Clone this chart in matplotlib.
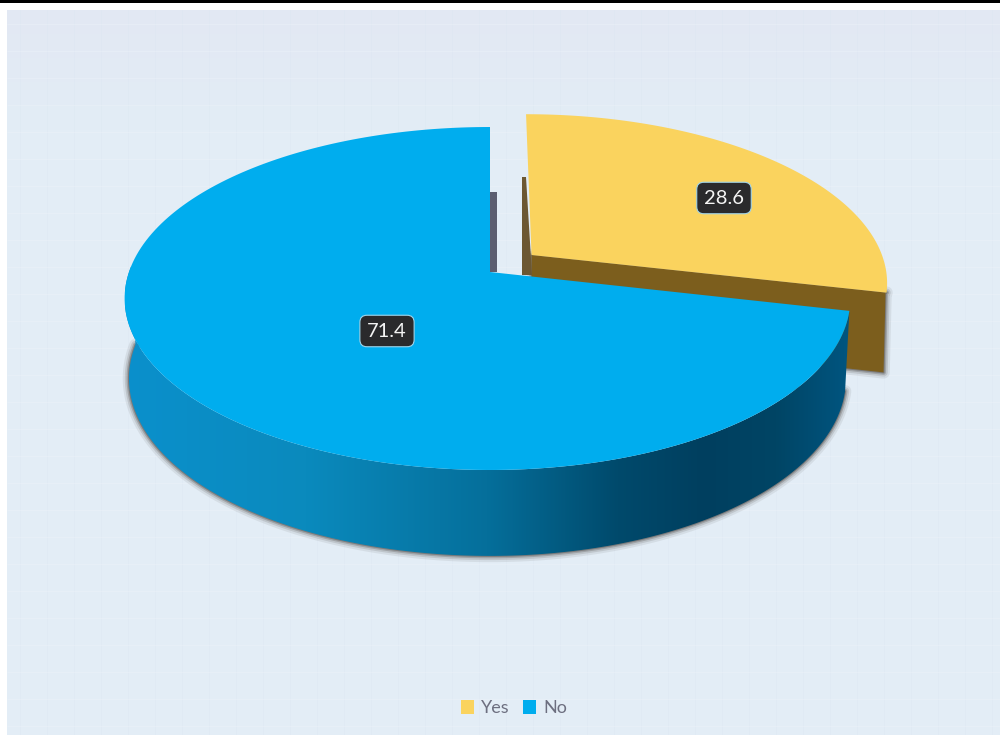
import numpy as np
import matplotlib
matplotlib.use("Agg")
import matplotlib.pyplot as plt
from matplotlib.colors import LinearSegmentedColormap
from matplotlib.patches import Patch, Polygon

# Data
labels = ["Yes", "No"]
values = [28.6, 71.4]
colors = ["#fad35e", "#00adee"]

# Pie geometry, in pixels
cx, cy = 490, 272
rx_left, rx_right = 361, 356
ry = 167.4
persp = 0.1545
depth = 79
explode = (0.1185, 0.1032)

plt.rcParams["font.family"] = ["Lato", "DejaVu Sans"]

fig = plt.figure(figsize=(10, 7.35), dpi=100, facecolor="white")
ax = fig.add_axes([0, 0, 1, 1])
ax.set_xlim(0, 1000)
ax.set_ylim(735, 0)
ax.axis("off")


def project(wx, wy, drop=0.0):
    # perspective from the flat pie plane to the screen
    d = 1 + persp * wy
    sx = cx + np.where(wx < 0, rx_left, rx_right) * wx / d
    sy = cy - ry * wy / d + drop * depth / np.sqrt(d)
    return sx, sy


def rim(a0, a1, off=(0, 0), drop=0.0, n=200):
    t = np.radians(np.linspace(a0, a1, n))
    return project(np.cos(t) + off[0], np.sin(t) + off[1], drop)


def poly(xs, ys, **kw):
    p = Polygon(np.column_stack([xs, ys]), closed=True, **kw)
    ax.add_patch(p)
    return p


def soft_edge(xs, ys, z, color="#45403c"):
    for lw, a in [(9, 0.09), (6, 0.15), (3.5, 0.25), (1.5, 0.4)]:
        poly(xs, ys, fc="none", ec=color, lw=lw, alpha=a, zorder=z, joinstyle="round")


# Background panel with a faint grid
ax.add_patch(plt.Rectangle((7, 10), 993, 725, fc="#e3edf6", ec="none", zorder=0))
ax.imshow(np.linspace(0, 1, 128)[:, None], extent=(7, 1000, 130, 10), aspect="auto", zorder=0.1,
          cmap=LinearSegmentedColormap.from_list("top", ["#e2e8f3", "#e3edf6"]))
ax.set_xlim(0, 1000)
ax.set_ylim(735, 0)
ax.vlines(np.arange(20, 1000, 27), 10, 735, color="#d8e4f0", lw=0.7, alpha=0.25, zorder=0.2)
ax.hlines(np.arange(24, 735, 27), 7, 1000, color="#eff5fa", lw=0.7, alpha=0.35, zorder=0.2)
ax.add_patch(plt.Rectangle((0, 0), 1000, 3, fc="black", ec="none", zorder=0.3))

# Slice angles come from the values, clockwise from twelve o'clock for "Yes"
total = sum(values)
yes_end = 90 - 360 * values[0] / total
no_end = 90 + 360 * values[1] / total

# Exploded "Yes" slice: cut face first, then the top
ax_, ay_ = project(explode[0], explode[1])
bx_, by_ = project(explode[0], explode[1], 1.0)
tipx, tipy = rim(yes_end, yes_end, explode, n=1)
tipbx, tipby = rim(yes_end, yes_end, explode, 1.0, n=1)
face_x = [ax_, tipx[0], tipx[0] - 1, tipbx[0] - 3, bx_]
face_y = [ay_, tipy[0], tipy[0], tipby[0], by_]
soft_edge(face_x, face_y, 1)
poly(face_x, face_y, fc="#7c5e1d", ec="none", zorder=2)

topx, topy = rim(90, 90, explode, n=1)
poly([topx[0], topx[0] - 4, topx[0] - 4, ax_],
     [topy[0] + 63, topy[0] + 63, ay_ + 20, ay_ + 20], fc="#6c5732", ec="none", zorder=2)

xs, ys = rim(90, yes_end, explode)
poly(np.r_[ax_, xs], np.r_[ay_, ys], fc=colors[0], ec="none", zorder=3)

# "No" slice: wall with a left to right shading, its shadow, the inner face, the top
a0, a1 = 178, no_end
tx, ty = rim(a0, a1)
bx, by = rim(a0, a1, drop=1.0)
bx = bx - 0.012 * (bx - cx)
soft_edge(bx, by, 4)
wall = poly(np.r_[tx, bx[::-1]], np.r_[ty, by[::-1]], fc="none", ec="none", zorder=5)
wall_cmap = LinearSegmentedColormap.from_list("wall", [
    (0, "#0b90cc"), (0.25, "#0a8abd"), (0.5, "#056f9b"), (0.68, "#004a6c"),
    (0.8, "#003f5f"), (0.9, "#004565"), (1, "#005580")])
img = ax.imshow(np.linspace(0, 1, 256)[None, :], extent=(125, 850, 735, 0), aspect="auto",
                cmap=wall_cmap, zorder=5)
img.set_clip_path(wall)
ax.set_xlim(0, 1000)
ax.set_ylim(735, 0)

ptx, pty = project(0, 1)
poly([ptx, ptx + 7, ptx + 7, ptx], [pty + 65, pty + 65, cy, cy], fc="#5c5e70", ec="none", zorder=4)

xs, ys = rim(90, no_end)
poly(np.r_[cx, xs], np.r_[cy, ys], fc=colors[1], ec="none", zorder=6)

# Value badges
label_pos = [(724, 198), (387, 331)]
for v, (lx, ly) in zip(values, label_pos):
    ax.text(lx, ly, f"{v:.1f}", color="#f4f4f4", fontsize=14.5, ha="center", va="center", zorder=8,
            bbox=dict(boxstyle="round,pad=0.36,rounding_size=0.35", fc="#2a2a2c", ec="#9fd4ea", lw=0.8))

# Legend
handles = [Patch(fc=c, ec="none", label=l) for c, l in zip(colors, labels)]
ax.legend(handles=handles, loc="center", bbox_to_anchor=(0.514, 0.0365), ncol=2, frameon=False,
          fontsize=13, labelcolor="#6d6f80", handlelength=0.72, handleheight=0.85,
          handletextpad=0.4, columnspacing=0.75, borderpad=0)

fig.savefig("out.png", dpi=100)
